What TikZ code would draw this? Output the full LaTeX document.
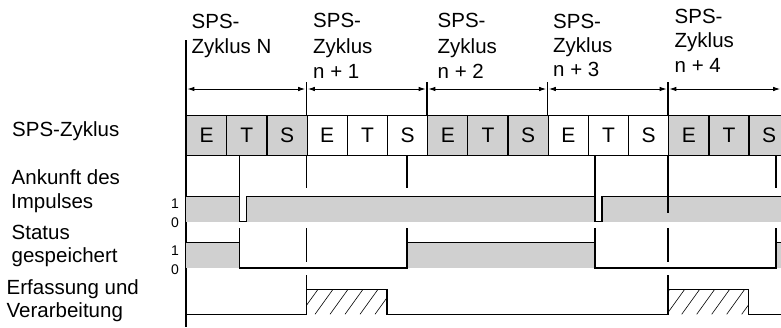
\documentclass[tikz,border=0pt]{standalone}
\usepackage{fontspec}
\setmainfont{Liberation Sans}
\usetikzlibrary{arrows.meta}
\definecolor{band}{RGB}{208,208,208}
\tikzset{
  lbl/.style={anchor=base west, inner sep=0pt, font=\fontsize{20.5}{24}\selectfont},
  bit/.style={anchor=base, inner sep=0pt, font=\fontsize{14}{16}\selectfont},
  cellbox/.style={draw, line width=1.3pt, minimum width=40.17pt, minimum height=40pt,
    inner sep=0pt, anchor=north west, font=\fontsize{21}{24}\selectfont},
  wave/.style={line width=1.4pt, line join=miter},
  marker/.style={line width=1.2pt},
  hatch/.style={line width=0.6pt},
  cyclearrow/.style={line width=1pt,
    {Latex[length=7pt,width=4.5pt]}-{Latex[length=7pt,width=4.5pt]},
    shorten <=1.3pt, shorten >=1.3pt},
}
\begin{document}
\begin{tikzpicture}[x=1pt,y=-1pt]
\clip (0,0) rectangle (781,327);
\fill[white] (0,0) rectangle (781,327);

% cycle boundaries
\coordinate (b0) at (186,89);
\coordinate (b1) at (306.5,89);
\coordinate (b2) at (427,89);
\coordinate (b3) at (547.5,89);
\coordinate (b4) at (668,89);
\coordinate (b5) at (781.5,89);

% top labels
\node[lbl] (n0a) at (191.5,28) {SPS-};
\node[lbl] (n0b) at (191.5,53) {Zyklus N};
\node[lbl] (n1a) at (313,27) {SPS-};
\node[lbl] (n1b) at (313,53) {Zyklus};
\node[lbl] (n1c) at (313,78) {n + 1};
\node[lbl] (n2a) at (437.5,27) {SPS-};
\node[lbl] (n2b) at (437.5,53) {Zyklus};
\node[lbl] (n2c) at (437.5,78) {n + 2};
\node[lbl] (n3a) at (553,28) {SPS-};
\node[lbl] (n3b) at (553,52) {Zyklus};
\node[lbl] (n3c) at (553,76) {n + 3};
\node[lbl] (n4a) at (674.5,23.5) {SPS-};
\node[lbl] (n4b) at (674.5,47) {Zyklus};
\node[lbl] (n4c) at (674.5,72) {n + 4};

% left labels
\node[lbl] (l1) at (12,136) {SPS-Zyklus};
\node[lbl] (l2) at (11.5,184) {Ankunft des};
\node[lbl] (l3) at (11,208) {Impulses};
\node[lbl] (l4) at (11.5,239) {Status};
\node[lbl] (l5) at (11.5,262) {gespeichert};
\node[lbl] (l6) at (6.5,294) {Erfassung und};
\node[lbl] (l7) at (6.5,317) {Verarbeitung};

\node[bit] (one1) at (175,208) {1};
\node[bit] (zero1) at (175,227) {0};
\node[bit] (one2) at (175,255) {1};
\node[bit] (zero2) at (175,274) {0};

% cycle arrows
\draw[cyclearrow] (b0) -- (b1);
\draw[cyclearrow] (b1) -- (b2);
\draw[cyclearrow] (b2) -- (b3);
\draw[cyclearrow] (b3) -- (b4);
\draw[cyclearrow] (b4) -- (b5);

% boundary lines above the cells
\draw[marker] (186,40) -- (186,327);
\foreach \x in {306.5,427,547.5,668} \draw[marker] (\x,82) -- (\x,115);

% cells
\foreach \i/\t/\f in {0/E/band,1/T/band,2/S/band,3/E/white,4/T/white,5/S/white,
  6/E/band,7/T/band,8/S/band,9/E/white,10/T/white,11/S/white,12/E/band,13/T/band,14/S/band}
  \node[cellbox, fill=\f] (c\i) at ({186+40.17*\i},115) {\t};

% Ankunft des Impulses
\fill[band] (186,196.5) rectangle (239.3,221.5);
\fill[band] (246.7,196.5) rectangle (595,221.5);
\fill[band] (602,196.5) rectangle (781,221.5);
\draw[wave] (186,196.5) -- (239.3,196.5) -- (239.3,221.5) -- (246.7,221.5) -- (246.7,196.5)
  -- (595,196.5) -- (595,221.5) -- (602,221.5) -- (602,196.5) -- (782,196.5);
\draw[wave] (239.3,155) -- (239.3,197);
\draw[wave] (595,155) -- (595,197);

% Status gespeichert
\fill[band] (186,242.7) rectangle (239.3,268);
\fill[band] (407,242.7) rectangle (595,268);
\fill[band] (776,242.7) rectangle (781,268);
\draw[wave] (186,242.7) -- (239.3,242.7) -- (239.3,268) -- (407,268) -- (407,242.7)
  -- (595,242.7) -- (595,268) -- (776,268) -- (776,242.7) -- (782,242.7);
\foreach \x in {239.3,407,595,776} \draw[wave] (\x,228) -- (\x,243);

% markers
\draw[marker] (306.5,155) -- (306.5,188);
\draw[marker] (306.5,228) -- (306.5,262);
\draw[marker] (306.5,275) -- (306.5,290);
\draw[marker] (668,155) -- (668,213);
\draw[marker] (668,228) -- (668,262);
\draw[marker] (668,275) -- (668,290);
\draw[marker] (407,155) -- (407,188);
\draw[marker] (776,155) -- (776,188);

% Erfassung und Verarbeitung: hatching
\begin{scope}
  \clip (306.5,289.3) rectangle (386.8,314.3);
  \foreach \k in {-2,...,6} \draw[hatch] ({315+15*\k},314.3) -- ++(18,-25);
\end{scope}
\begin{scope}
  \clip (668,289.3) rectangle (748.5,314.3);
  \foreach \k in {-2,...,6} \draw[hatch] ({681.7+15*\k},314.3) -- ++(18,-25);
\end{scope}
\draw[wave] (186,314.3) -- (306.5,314.3) -- (306.5,289.3) -- (386.8,289.3) -- (386.8,314.3)
  -- (668,314.3) -- (668,289.3) -- (748.5,289.3) -- (748.5,314.3) -- (782,314.3);
\end{tikzpicture}
\end{document}
